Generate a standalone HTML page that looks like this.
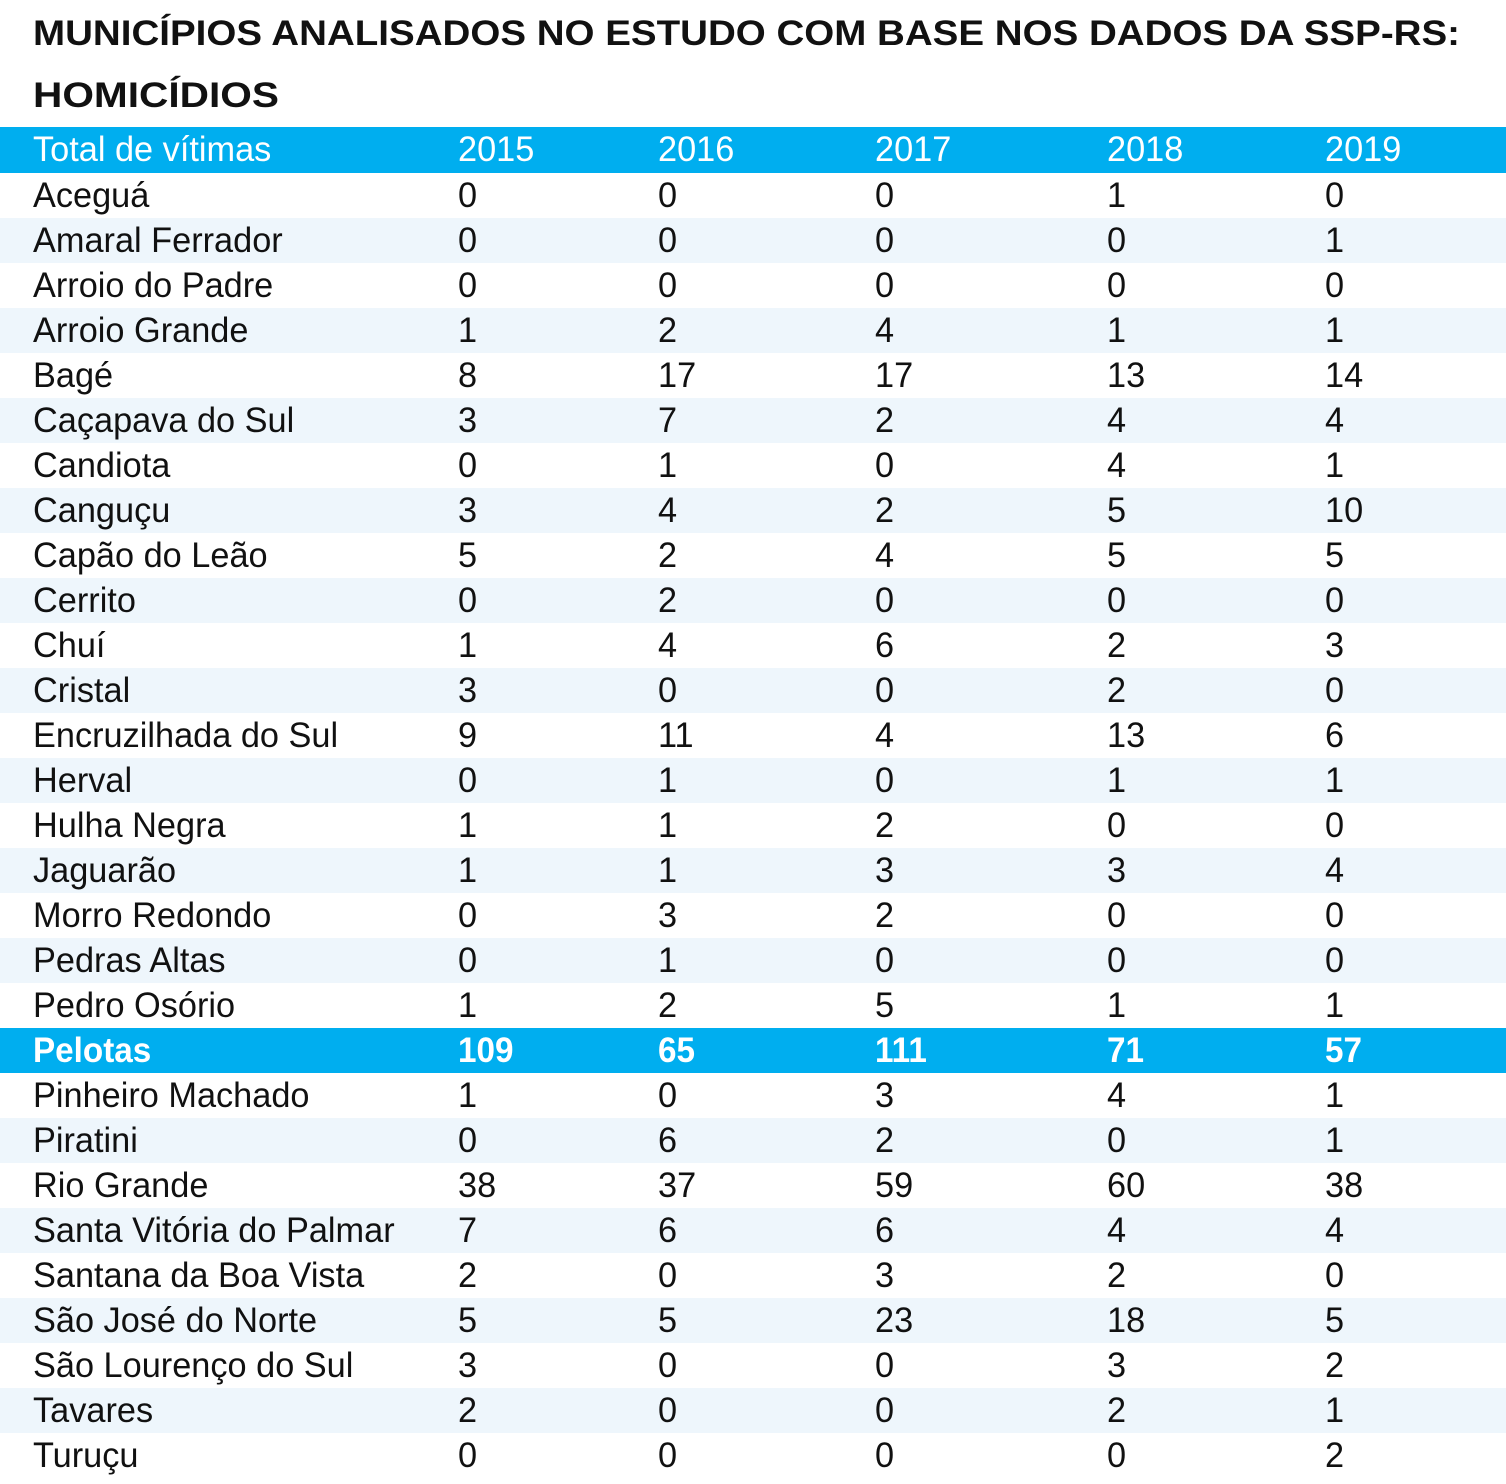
<!DOCTYPE html>
<html><head><meta charset="utf-8"><style>
body{margin:0;width:1506px;height:1484px;background:#fff;overflow:hidden;font-family:"Liberation Sans",sans-serif;position:relative}
.r{position:absolute;left:0;width:1506px;height:45px;line-height:46px;font-size:35px;color:#111}
.r span{position:absolute;top:0;white-space:nowrap;transform:scaleX(0.98);transform-origin:left}
.a{background:#eef6fc}
.h{background:#00aeef;color:#fff;height:46px}
.p{background:#00aeef;color:#fff;font-weight:bold}
.p span{transform:scaleX(0.95)}
</style></head><body>
<svg width="1506" height="127" style="position:absolute;left:0;top:0">
<text x="33" y="45" font-family="Liberation Sans" font-weight="bold" font-size="35" textLength="1427" lengthAdjust="spacingAndGlyphs" fill="#111">MUNICÍPIOS ANALISADOS NO ESTUDO COM BASE NOS DADOS DA SSP-RS:</text>
<text x="33" y="107" font-family="Liberation Sans" font-weight="bold" font-size="35" textLength="246" lengthAdjust="spacingAndGlyphs" fill="#111">HOMICÍDIOS</text>
</svg>
<div id="t"></div>
<script>
var d=[["Total de vítimas","2015","2016","2017","2018","2019"],
["Aceguá",0,0,0,1,0],["Amaral Ferrador",0,0,0,0,1],["Arroio do Padre",0,0,0,0,0],["Arroio Grande",1,2,4,1,1],["Bagé",8,17,17,13,14],["Caçapava do Sul",3,7,2,4,4],["Candiota",0,1,0,4,1],["Canguçu",3,4,2,5,10],["Capão do Leão",5,2,4,5,5],["Cerrito",0,2,0,0,0],["Chuí",1,4,6,2,3],["Cristal",3,0,0,2,0],["Encruzilhada do Sul",9,11,4,13,6],["Herval",0,1,0,1,1],["Hulha Negra",1,1,2,0,0],["Jaguarão",1,1,3,3,4],["Morro Redondo",0,3,2,0,0],["Pedras Altas",0,1,0,0,0],["Pedro Osório",1,2,5,1,1],["Pelotas",109,65,111,71,57],["Pinheiro Machado",1,0,3,4,1],["Piratini",0,6,2,0,1],["Rio Grande",38,37,59,60,38],["Santa Vitória do Palmar",7,6,6,4,4],["Santana da Boa Vista",2,0,3,2,0],["São José do Norte",5,5,23,18,5],["São Lourenço do Sul",3,0,0,3,2],["Tavares",2,0,0,2,1],["Turuçu",0,0,0,0,2]];
var xs=[33,458,658,875,1107,1325],h="";
d.forEach(function(r,i){var c="r";if(i==0)c+=" h";else if(r[0]=="Pelotas")c+=" p";else if(i%2==0)c+=" a";
var top=i==0?127:173+(i-1)*45;h+='<div class="'+c+'" style="top:'+top+'px">';
r.forEach(function(v,j){h+='<span style="left:'+xs[j]+'px">'+v+'</span>'});h+='</div>'});
document.getElementById("t").innerHTML=h;
</script>
</body></html>
